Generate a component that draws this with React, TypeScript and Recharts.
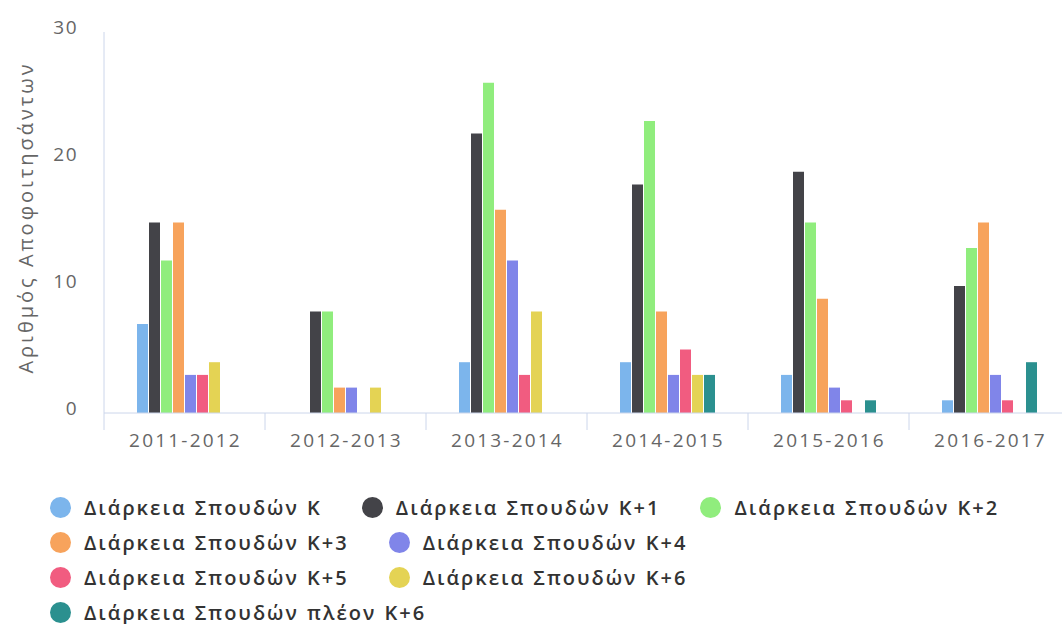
import React from "react"
import { BarChart, Bar, XAxis, YAxis, Legend } from "recharts"

// academic years on the x axis
const categories = ["2011-2012", "2012-2013", "2013-2014", "2014-2015", "2015-2016", "2016-2017"]

// graduates per study duration
const seriesK = [7, 0, 4, 4, 3, 1]
const seriesK1 = [15, 8, 22, 18, 19, 10]
const seriesK2 = [12, 8, 26, 23, 15, 13]
const seriesK3 = [15, 2, 16, 8, 9, 15]
const seriesK4 = [3, 2, 12, 3, 2, 3]
const seriesK5 = [3, 0, 3, 5, 1, 1]
const seriesK6 = [4, 2, 8, 3, 0, 0]
const seriesPlus = [0, 0, 0, 3, 1, 4]

const yTicks = [0, 10, 20, 30]

const series = [
  { key: "k", name: "Διάρκεια Σπουδών Κ", values: seriesK, color: "#7cb5ec" },
  { key: "k1", name: "Διάρκεια Σπουδών Κ+1", values: seriesK1, color: "#434348" },
  { key: "k2", name: "Διάρκεια Σπουδών Κ+2", values: seriesK2, color: "#90ed7d" },
  { key: "k3", name: "Διάρκεια Σπουδών Κ+3", values: seriesK3, color: "#f7a35c" },
  { key: "k4", name: "Διάρκεια Σπουδών Κ+4", values: seriesK4, color: "#8085e9" },
  { key: "k5", name: "Διάρκεια Σπουδών Κ+5", values: seriesK5, color: "#f15c80" },
  { key: "k6", name: "Διάρκεια Σπουδών Κ+6", values: seriesK6, color: "#e4d354" },
  { key: "plus", name: "Διάρκεια Σπουδών πλέον Κ+6", values: seriesPlus, color: "#2b908f" },
]

// how the legend wraps in the original
const legendRows = [
  ["k", "k1", "k2"],
  ["k3", "k4"],
  ["k5", "k6"],
  ["plus"],
]

const data = categories.map((year, i) => {
  const row: Record<string, string | number> = { year }
  series.forEach((s) => {
    row[s.key] = s.values[i]
  })
  return row
})

const FONT = "'Open Sans', sans-serif"
const AXIS_COLOR = "#ccd6eb"

// tick marks sit between categories, labels in the middle
const XTick = (props: any) => {
  const { x, y, payload, index } = props
  const half = payload.offset || 0
  return (
    <g>
      <line x1={x - half} y1={y} x2={x - half} y2={y + 17} stroke={AXIS_COLOR} />
      {index === categories.length - 1 && (
        <line x1={x + half} y1={y} x2={x + half} y2={y + 17} stroke={AXIS_COLOR} />
      )}
      <text
        x={x + 1}
        y={y + 34}
        textAnchor="middle"
        fill="#666"
        fontSize={19}
        fontFamily={FONT}
        letterSpacing={2.2}
      >
        {payload.value}
      </text>
    </g>
  )
}

// y labels sit a little above their tick, like the original
const YTick = (props: any) => {
  const { x, y, payload } = props
  return (
    <text
      x={x}
      y={y - 4.5}
      dy="0.355em"
      textAnchor="end"
      fill="#666"
      fontSize={19}
      fontFamily={FONT}
      letterSpacing={1.5}
    >
      {payload.value}
    </text>
  )
}

const YLabel = (props: any) => {
  const { viewBox } = props
  const cy = viewBox.y + viewBox.height / 2 - 5
  return (
    <text
      x={33}
      y={cy}
      transform={`rotate(-90, 33, ${cy})`}
      textAnchor="middle"
      fill="#666"
      fontSize={20}
      fontFamily={FONT}
      letterSpacing={3}
    >
      Αριθμός Αποφοιτησάντων
    </text>
  )
}

const renderLegend = () => (
  <div style={{ fontFamily: FONT }}>
    {legendRows.map((row, r) => (
      <div key={r} style={{ display: "flex", alignItems: "center", height: 35 }}>
        {row.map((k) => {
          const s = series.find((x) => x.key === k)!
          return (
            <div key={k} style={{ display: "flex", alignItems: "center", marginRight: 40 }}>
              <span
                style={{
                  display: "inline-block",
                  width: 21,
                  height: 21,
                  borderRadius: "50%",
                  background: s.color,
                  marginRight: 13,
                }}
              />
              <span
                style={{
                  color: "#333",
                  fontSize: 20,
                  fontWeight: 600,
                  letterSpacing: 2,
                  wordSpacing: 1,
                  whiteSpace: "nowrap",
                  lineHeight: "24px",
                }}
              >
                {s.name}
              </span>
            </div>
          )
        })}
      </div>
    ))}
  </div>
)

export default function App() {
  return (
    <div
      style={{
        position: "fixed",
        top: 0,
        left: 0,
        width: 1062,
        height: 624,
        overflow: "hidden",
        background: "#fff",
      }}
    >
      <BarChart
        width={1070}
        height={624}
        data={data}
        margin={{ top: 32, right: 0, bottom: 151, left: 0 }}
        barSize={11}
        barGap={1}
      >
        <XAxis
          dataKey="year"
          height={60}
          axisLine={{ stroke: AXIS_COLOR }}
          tickLine={false}
          tickSize={0}
          tickMargin={0}
          interval={0}
          tick={<XTick />}
        />
        <YAxis
          width={104}
          domain={[0, 30]}
          ticks={yTicks}
          axisLine={{ stroke: AXIS_COLOR }}
          tickLine={false}
          tickSize={0}
          tickMargin={26}
          tick={<YTick />}
          label={<YLabel />}
        />
        <Legend
          layout="horizontal"
          align="center"
          verticalAlign="middle"
          content={renderLegend}
          wrapperStyle={{ top: 490, left: 50, width: 1010, height: 140 }}
        />
        {series.map((s) => (
          <Bar key={s.key} dataKey={s.key} name={s.name} fill={s.color} isAnimationActive={false} />
        ))}
      </BarChart>
    </div>
  )
}
